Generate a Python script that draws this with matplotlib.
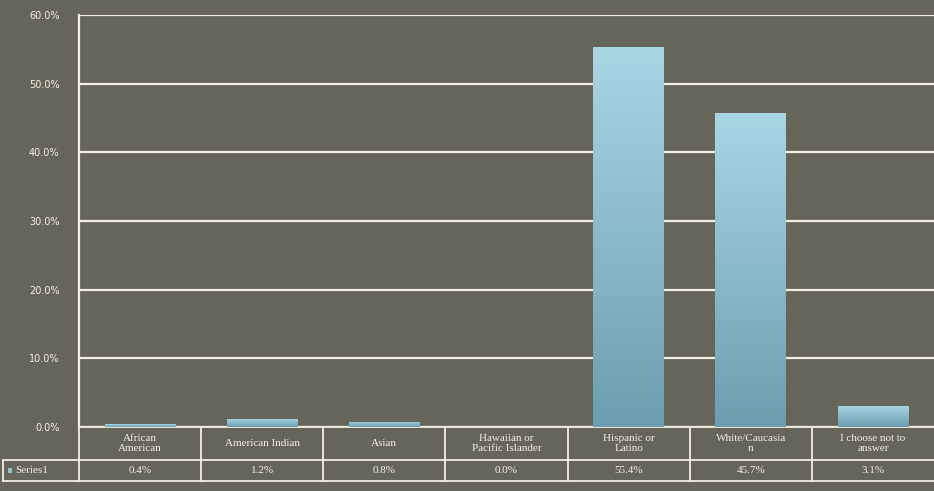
import matplotlib
matplotlib.use("Agg")
import matplotlib.pyplot as plt
import numpy as np
from matplotlib.colors import LinearSegmentedColormap
from matplotlib.lines import Line2D
from matplotlib.patches import Rectangle

categories = ["African\nAmerican", "American Indian", "Asian", "Hawaiian or\nPacific Islander",
              "Hispanic or\nLatino", "White/Caucasia\nn", "I choose not to\nanswer"]
values = [0.4, 1.2, 0.8, 0.0, 55.4, 45.7, 3.1]
value_labels = ["0.4%", "1.2%", "0.8%", "0.0%", "55.4%", "45.7%", "3.1%"]
series_name = "Series1"
yticks = [0, 10, 20, 30, 40, 50, 60]

bg = "#66655a"
line_c = "#f2f0e2"
text_c = "#f2f0e2"

fig = plt.figure(figsize=(9.34, 4.91), dpi=100, facecolor=bg)
ax = fig.add_axes([79/934, 64/491, 855/934, 412/491], facecolor=bg)

n = len(values)
x = np.arange(n)
bars = ax.bar(x, values, width=0.58, color="#8fc0d2", zorder=3, linewidth=0)
cmap = LinearSegmentedColormap.from_list("g", ["#6c9db0", "#aad6e4"])
grad = np.linspace(0, 1, 256).reshape(-1, 1)
for b in bars:
    h = b.get_height()
    if h <= 0:
        continue
    im = ax.imshow(grad, cmap=cmap, origin="lower", aspect="auto",
                   extent=(b.get_x(), b.get_x() + b.get_width(), 0, h), zorder=4)
    im.set_clip_path(b)

ax.set_xlim(-0.5, n - 0.5)
ax.set_ylim(0, 60)
ax.set_yticks(yticks)
ax.set_yticklabels([f"{v:.1f}%" for v in yticks], color=text_c, fontsize=7, family="DejaVu Sans")
ax.tick_params(axis="y", length=0, pad=14)
ax.set_xticks([])
ax.yaxis.grid(True, color=line_c, linewidth=1.6, zorder=1)
for s in ["top", "right", "bottom"]:
    ax.spines[s].set_visible(False)
ax.spines["left"].set_color(line_c)
ax.spines["left"].set_linewidth(1.6)

# data table below the axes
h1 = 33/412
h2 = 21/412
xl = (3 - 79)/855
tr = ax.transAxes
kw = dict(transform=tr, clip_on=False, color=line_c, linewidth=1.3)
ax.add_line(Line2D([0, 1], [0, 0], **kw))
ax.add_line(Line2D([xl, 1], [-h1, -h1], **kw))
ax.add_line(Line2D([xl, 1], [-h1 - h2, -h1 - h2], **kw))
ax.add_line(Line2D([xl, xl], [-h1, -h1 - h2], **kw))
for i in range(n):
    xx = i / n
    ax.add_line(Line2D([xx, xx], [0, -h1 - h2], **kw))
for i in range(n):
    xc = (i + 0.5) / n
    ax.text(xc, -h1/2, categories[i], transform=tr, ha="center", va="center",
            fontsize=8, family="Liberation Serif", color=text_c, linespacing=1.1)
    ax.text(xc, -h1 - h2/2, value_labels[i], transform=tr, ha="center", va="center",
            fontsize=8, family="Liberation Serif", color=text_c)
ax.add_patch(Rectangle((xl + 0.006, -h1 - h2/2 - 0.006), 0.005, 0.012, transform=tr,
                       clip_on=False, facecolor="#8fc0d2", edgecolor="none"))
ax.text(xl + 0.014, -h1 - h2/2, series_name, transform=tr, ha="left", va="center",
        fontsize=8, family="Liberation Serif", color=text_c)

fig.savefig("out.png", dpi=100, facecolor=bg)
